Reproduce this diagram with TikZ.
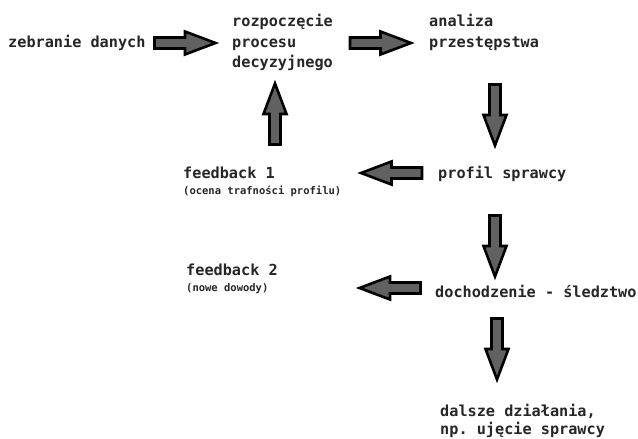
\documentclass[tikz,border=0pt]{standalone}
\usepackage{fontspec}
\setmonofont{DejaVu Sans Mono}
\tikzset{
  lbl/.style={anchor=base west, inner sep=0pt, font=\ttfamily\bfseries\fontsize{15.2}{20}\selectfont, text=black!85},
  sub/.style={anchor=base west, inner sep=0pt, font=\ttfamily\bfseries\fontsize{10.5}{12}\selectfont, text=black!85},
  blkline/.style={draw=black, fill=black!62, line width=2.6pt, line join=miter},
  blk/.pic={\path[blkline] (-30.5,-5.5) -- (0,-5.5) -- (0,-11.5) -- (30.5,0) -- (0,11.5) -- (0,5.5) -- (-30.5,5.5) -- cycle;}
}
\begin{document}
\begin{tikzpicture}[x=1pt,y=-1pt]
\useasboundingbox (0,0) rectangle (638,439);
% texts
\node[lbl] (zeb) at (8,47) {zebranie danych};
\node[lbl] (roz1) at (232,27) {rozpoczęcie};
\node[lbl] (roz2) at (232,47) {procesu};
\node[lbl] (roz3) at (232,67) {decyzyjnego};
\node[lbl] (ana1) at (429,27) {analiza};
\node[lbl] (ana2) at (429,47) {przestępstwa};
\node[lbl] (fb1) at (183,178) {feedback 1};
\node[sub] (fb1s) at (183,194) {(ocena trafności profilu)};
\node[lbl] (prof) at (438,178) {profil sprawcy};
\node[lbl] (fb2) at (186,275) {feedback 2};
\node[sub] (fb2s) at (186,291) {(nowe dowody)};
\node[lbl] (doch) at (435,297) {dochodzenie - śledztwo};
\node[lbl] (dal1) at (440,416) {dalsze działania,};
\node[lbl] (dal2) at (440,434) {np. ujęcie sprawcy};
% block arrows
\pic (a1) at (185,43) {blk};
\pic (a2) at (380.5,43) {blk};
\pic[rotate=-90] (a3) at (495,115) {blk};
\pic[rotate=90] (a4) at (275,114) {blk};
\pic[rotate=180] (a5) at (391.5,173) {blk};
\pic[rotate=-90] (a6) at (495,246) {blk};
\pic[rotate=180] (a7) at (390,288) {blk};
\pic[rotate=-90] (a8) at (497,349) {blk};
\end{tikzpicture}
\end{document}
